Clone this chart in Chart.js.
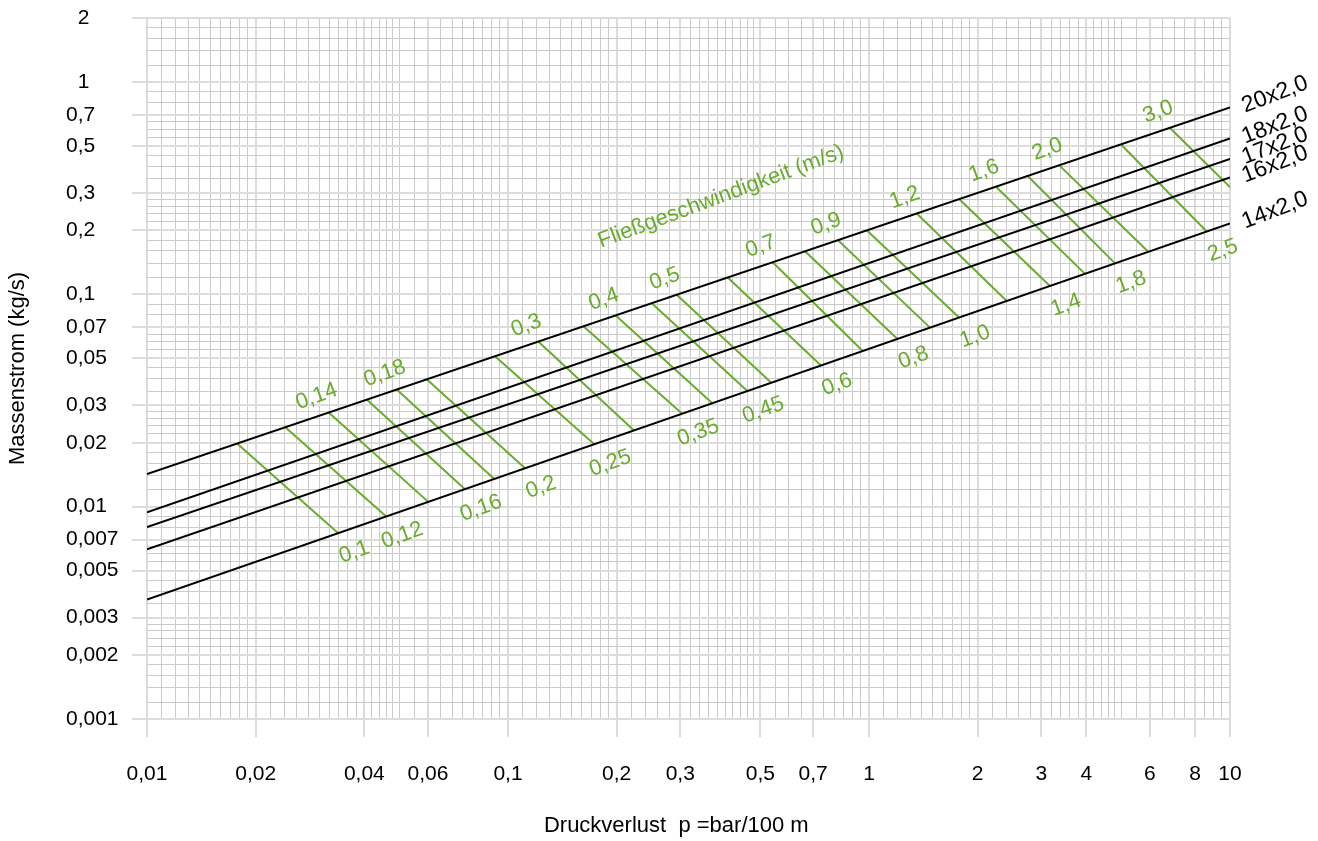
<!DOCTYPE html>
<html>
<head>
<meta charset="utf-8">
<script src="https://cdn.jsdelivr.net/npm/chart.js@4.4.1/dist/chart.umd.min.js"></script>
<style>
html,body{margin:0;padding:0;background:#fff;}
#wrap{width:1318px;height:841px;position:relative;}
</style>
</head>
<body>
<div id="wrap"><canvas id="c" width="1318" height="841"></canvas></div>
<script>
// ---------------- data ----------------
const xTickValues = [0.01,0.02,0.04,0.06,0.1,0.2,0.3,0.5,0.7,1,2,3,4,6,8,10];
const xTickLabels = ['0,01','0,02','0,04','0,06','0,1','0,2','0,3','0,5','0,7','1','2','3','4','6','8','10'];
const yTickValues = [2,1,0.7,0.5,0.3,0.2,0.1,0.07,0.05,0.03,0.02,0.01,0.007,0.005,0.003,0.002,0.001];
const yTickLabels = ['  2','  1','0,7','0,5','0,3','0,2','0,1','0,07','0,05','0,03','0,02','0,01','0,007','0,005','0,003','0,002','0,001'];

// grid lines of the log paper (mantissas per decade)
const xGridMantissas = [1,1.1,1.2,1.3,1.4,1.5,1.6,1.7,1.8,1.9,2,2.2,2.4,2.6,2.8,3,3.2,3.4,3.6,3.8,4,4.2,4.4,4.6,4.8,5,5.5,6,6.5,7,7.5,8,8.5,9,9.5];
const yGridMantissas = [1,1.2,1.4,1.6,1.8,2,2.2,2.4,2.6,2.8,3,3.5,4,4.5,5,5.5,6,6.5,7,8,9];
const xDecades = [0.01,0.1,1,10];
const yDecades = [0.001,0.01,0.1,1];

// pipe lines (mass flow at 0.01 and at 10 bar/100 m)
const pipeNames = ['20x2,0','18x2,0','17x2,0','16x2,0','14x2,0'];
const pipeX = [0.01, 10];
const pipeYStart = [0.01425, 0.00941, 0.00802, 0.0063, 0.00365];
const pipeYEnd   = [0.7577, 0.5416, 0.434, 0.3549, 0.2157];

// velocity lines (flow speed, m/s): end on 20x2,0 line (top) and 14x2,0 line (bottom)
const velocities = [0.1,0.12,0.14,0.16,0.18,0.2,0.25,0.3,0.35,0.4,0.45,0.5,0.6,0.7,0.8,0.9,1.0,1.2,1.4,1.6,1.8,2.0,2.5,3.0];
const velocityLabels = ['0,1','0,12','0,14','0,16','0,18','0,2','0,25','0,3','0,35','0,4','0,45','0,5','0,6','0,7','0,8','0,9','1,0','1,2','1,4','1,6','1,8','2,0','2,5','3,0'];
const velTopX = [0.01776,0.02416,0.03186,0.04061,0.04918,0.05954,0.09204,0.1213,0.1617,0.1988,0.2501,0.2933,0.4061,0.541,0.6648,0.8206,0.9874,1.356,1.779,2.248,2.752,3.366,4.99,6.821];
const velTopY = [0.01983,0.02367,0.02776,0.03192,0.03562,0.03977,0.05109,0.05988,0.07062,0.07953,0.09077,0.0995,0.1199,0.1414,0.1593,0.1798,0.1999,0.2399,0.2804,0.3209,0.3605,0.4047,0.5075,0.6073];
const velBotX = [0.03388,0.04601,0.06015,0.07603,0.09162,0.1115,0.1734,0.2234,0.3039,0.3681,0.4603,0.5363,0.7362,0.9605,1.199,1.476,1.776,2.407,3.172,3.966,4.802,5.938,8.62,11.9];
const velBotY = [0.0075,0.00899,0.01053,0.01209,0.0135,0.01515,0.01968,0.02285,0.02741,0.03068,0.03501,0.03832,0.0462,0.05405,0.06164,0.06966,0.0777,0.09298,0.1094,0.1248,0.1398,0.1585,0.1975,0.2388];
const labelledAtTop = [0.14,0.18,0.3,0.4,0.5,0.7,0.9,1.2,1.6,2.0,3.0];

const velocityTitle = 'Fließgeschwindigkeit (m/s)';
const velocityTitleAnchor = {x: 0.389, y: 0.288};

// ---------------- styles ----------------
const GREEN = '#6aab2e';
const FONT = '"Liberation Sans", Arial, Helvetica, sans-serif';

function gridValues(decades, mantissas, min, max) {
  const out = [];
  decades.forEach(d => mantissas.forEach(m => {
    const v = +(d * m).toPrecision(6);
    if (v >= min * 0.9999 && v <= max * 1.0001) out.push(v);
  }));
  return out;
}
function findTick(list, value) {
  return list.findIndex(v => Math.abs(Math.log10(v) - Math.log10(value)) < 1e-6);
}

const datasets = [];
pipeNames.forEach((n, i) => {
  datasets.push({
    label: n,
    data: [{x: pipeX[0], y: pipeYStart[i]}, {x: pipeX[1], y: pipeYEnd[i]}],
    borderColor: '#000', borderWidth: 2, pointRadius: 0, tension: 0, showLine: true
  });
});
velocities.forEach((v, i) => {
  datasets.push({
    label: velocityLabels[i],
    data: [{x: velTopX[i], y: velTopY[i]}, {x: velBotX[i], y: velBotY[i]}],
    borderColor: GREEN, borderWidth: 2, pointRadius: 0, tension: 0, showLine: true
  });
});

function drawRotated(ctx, text, x, y, deg) {
  ctx.save();
  ctx.translate(x, y);
  ctx.rotate(deg * Math.PI / 180);
  ctx.fillText(text, 0, 0);
  ctx.restore();
}

const labelPlugin = {
  id: 'chartLabels',
  afterDatasetsDraw(chart) {
    const {ctx, scales: {x, y}} = chart;
    ctx.save();
    ctx.textAlign = 'center';
    ctx.textBaseline = 'middle';
    ctx.font = '22px ' + FONT;
    ctx.fillStyle = GREEN;
    velocities.forEach((v, i) => {
      const top = labelledAtTop.indexOf(v) >= 0;
      let px, py;
      if (top) {
        px = x.getPixelForValue(velTopX[i]) - 12;
        py = y.getPixelForValue(velTopY[i]) - 16;
      } else {
        px = x.getPixelForValue(velBotX[i]) + 16;
        py = y.getPixelForValue(velBotY[i]) + 19;
      }
      drawRotated(ctx, velocityLabels[i], px, py, -20);
    });
    drawRotated(ctx, velocityTitle,
      x.getPixelForValue(velocityTitleAnchor.x), y.getPixelForValue(velocityTitleAnchor.y), -20.4);

    ctx.fillStyle = '#000';
    ctx.font = '23px ' + FONT;
    pipeNames.forEach((n, i) => {
      const px = x.getPixelForValue(pipeX[1]) + 45;
      const py = y.getPixelForValue(pipeYEnd[i]) - 13;
      drawRotated(ctx, n, px, py, -21);
    });
    ctx.restore();
  }
};

const tickFont = {family: FONT, size: 21};

new Chart(document.getElementById('c'), {
  type: 'scatter',
  data: {datasets},
  options: {
    responsive: false,
    animation: false,
    devicePixelRatio: 1,
    layout: {padding: {left: 66, top: 18, right: 88, bottom: 2}},
    plugins: {legend: {display: false}, tooltip: {enabled: false}},
    elements: {line: {borderCapStyle: 'butt'}},
    scales: {
      x: {
        type: 'logarithmic',
        min: 0.01, max: 10,
        afterBuildTicks: s => { s.ticks = gridValues(xDecades, xGridMantissas, 0.01, 10).map(v => ({value: v})); },
        afterFit: s => { s.height = 120; },
        border: {display: false},
        grid: {
          color: c => (c.tick && findTick(xTickValues, c.tick.value) >= 0) ? '#dcdcdc' : '#cbcbcb',
          lineWidth: c => (c.tick && findTick(xTickValues, c.tick.value) >= 0) ? 2 : 1,
          tickColor: c => (c.tick && findTick(xTickValues, c.tick.value) >= 0) ? '#dcdcdc' : 'rgba(0,0,0,0)',
          tickLength: 18,
          drawTicks: true
        },
        ticks: {
          autoSkip: false, maxRotation: 0, minRotation: 0, padding: 25,
          color: '#000', font: tickFont,
          callback: (value) => { const i = findTick(xTickValues, value); return i >= 0 ? xTickLabels[i] : ''; }
        },
        title: {display: true, text: 'Druckverlust  p =bar/100 m    ', color: '#000',
                font: {family: FONT, size: 22}, padding: {top: 0, bottom: 0}}
      },
      y: {
        type: 'logarithmic',
        min: 0.001, max: 2,
        afterBuildTicks: s => { s.ticks = gridValues(yDecades, yGridMantissas, 0.001, 2).map(v => ({value: v})); },
        afterFit: s => { s.width = 81; },
        border: {display: false},
        grid: {
          color: c => (c.tick && findTick(yTickValues, c.tick.value) >= 0) ? '#dcdcdc' : '#cbcbcb',
          lineWidth: c => (c.tick && findTick(yTickValues, c.tick.value) >= 0) ? 2 : 1,
          tickColor: c => (c.tick && findTick(yTickValues, c.tick.value) >= 0) ? '#dcdcdc' : 'rgba(0,0,0,0)',
          tickLength: 15,
          drawTicks: true
        },
        ticks: {
          autoSkip: false, crossAlign: 'far', padding: 0,
          color: '#000', font: tickFont,
          callback: (value) => { const i = findTick(yTickValues, value); return i >= 0 ? yTickLabels[i] : ''; }
        },
        title: {display: true, text: 'Massenstrom (kg/s)', color: '#000',
                font: {family: FONT, size: 22}, padding: {top: -61, bottom: 0}}
      }
    }
  },
  plugins: [labelPlugin]
});
</script>
</body>
</html>
